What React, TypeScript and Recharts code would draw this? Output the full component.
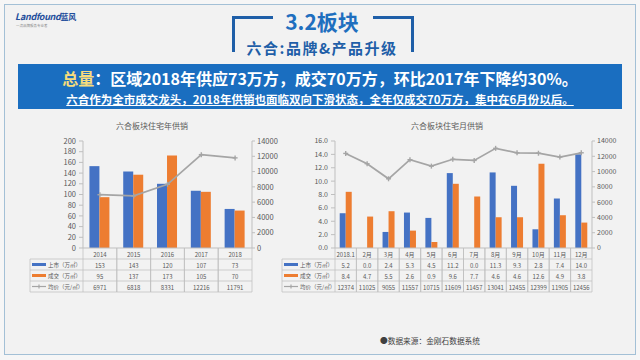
import React from 'react'
import { ComposedChart, Bar, Line, XAxis, YAxis } from 'recharts'

const FONT = '"Noto Sans CJK SC", "Noto Sans", sans-serif'

// 年度
const yearCats = ['2014', '2015', '2016', '2017', '2018']
const yearSupply = [153, 143, 120, 107, 73]
const yearDeal = [95, 137, 173, 105, 70]
const yearPrice = [6971, 6818, 8331, 12216, 11791]

// 月度
const monthCats = ['2018.1', '2月', '3月', '4月', '5月', '6月', '7月', '8月', '9月', '10月', '11月', '12月']
const monthSupply = [5.2, 0.0, 2.4, 5.3, 4.5, 11.2, 0.0, 11.3, 9.3, 2.8, 7.4, 14.0]
const monthDeal = [8.4, 4.7, 5.5, 2.6, 0.9, 9.6, 7.7, 4.6, 4.6, 12.6, 4.9, 3.8]
const monthPrice = [12374, 11025, 9055, 11557, 10715, 11609, 11457, 13041, 12455, 12399, 11905, 12456]

const yearAreaTicks = [0, 20, 40, 60, 80, 100, 120, 140, 160, 180, 200]
const monthAreaTicks = [0, 2, 4, 6, 8, 10, 12, 14, 16]
const priceTicks = [0, 2000, 4000, 6000, 8000, 10000, 12000, 14000]

const seriesNames = ['上市（万㎡）', '成交（万㎡）', '均价（元/㎡）']

const BLUE = '#4472c4'
const ORANGE = '#ed7d31'
const GRAY = '#a5a5a5'
const GRID = '#bfbfbf'
const TXT = '#595959'
const ROW_H = 11
const LEGEND_W = 53

const PlusDot = (p: any) => {
  const { cx, cy, index } = p
  if (cx == null || cy == null) return <g key={`d${index}`} />
  return (
    <g key={`d${index}`}>
      <line x1={cx - 2.5} x2={cx + 2.5} y1={cy} y2={cy} stroke={GRAY} strokeWidth={1.4} />
      <line x1={cx} x2={cx} y1={cy - 2.5} y2={cy + 2.5} stroke={GRAY} strokeWidth={1.4} />
    </g>
  )
}

type Row = { name: string; color: string; kind: 'bar' | 'line'; values: string[] }

function TableTick(props: any) {
  const { x, y, payload, width, visibleTicksCount, rows, index } = props
  const half = payload.offset || width / visibleTicksCount / 2
  const l = x - half
  const r = x + half
  const bottom = y + ROW_H * (rows.length + 1)
  const ts = { fontSize: 6, fill: TXT, fontFamily: FONT }
  return (
    <g>
      <text x={x} y={y + ROW_H / 2 + 0.5} textAnchor="middle" dominantBaseline="central" style={ts}>
        {payload.value}
      </text>
      <line x1={l} x2={l} y1={y} y2={bottom} stroke={GRID} strokeWidth={0.75} />
      <line x1={r} x2={r} y1={y} y2={bottom} stroke={GRID} strokeWidth={0.75} />
      {rows.map((row: Row, k: number) => (
        <g key={k}>
          <line x1={l} x2={r} y1={y + ROW_H * (k + 1)} y2={y + ROW_H * (k + 1)} stroke={GRID} strokeWidth={0.75} />
          <text x={x} y={y + ROW_H * (k + 1.5) + 0.5} textAnchor="middle" dominantBaseline="central" style={ts}>
            {row.values[index]}
          </text>
        </g>
      ))}
      <line x1={l} x2={r} y1={bottom} y2={bottom} stroke={GRID} strokeWidth={0.75} />
      {index === 0 && (
        <g>
          <line x1={l - LEGEND_W} x2={l - LEGEND_W} y1={y + ROW_H} y2={bottom} stroke={GRID} strokeWidth={0.75} />
          {rows.map((row: Row, k: number) => {
            const cy = y + ROW_H * (k + 1.5)
            const sx = l - LEGEND_W + 2
            return (
              <g key={k}>
                <line x1={l - LEGEND_W} x2={l} y1={y + ROW_H * (k + 1)} y2={y + ROW_H * (k + 1)} stroke={GRID} strokeWidth={0.75} />
                {row.kind === 'bar' ? (
                  <rect x={sx} y={cy - 1.5} width={14} height={3} fill={row.color} />
                ) : (
                  <g>
                    <line x1={sx} x2={sx + 14} y1={cy} y2={cy} stroke={row.color} strokeWidth={1.2} />
                    <line x1={sx + 7} x2={sx + 7} y1={cy - 2} y2={cy + 2} stroke={row.color} strokeWidth={1.2} />
                  </g>
                )}
                <text x={sx + 16} y={cy + 0.5} dominantBaseline="central" style={{ ...ts, fontSize: 5.5 }}>
                  {row.name}
                </text>
              </g>
            )
          })}
          <line x1={l - LEGEND_W} x2={l} y1={bottom} y2={bottom} stroke={GRID} strokeWidth={0.75} />
        </g>
      )}
    </g>
  )
}

function SupplyChart(props: {
  title: string
  titleX: number
  left: number
  width: number
  cats: string[]
  supply: number[]
  deal: number[]
  price: number[]
  areaTicks: number[]
  areaFmt: (v: number) => string
  gap: string
  fs: number
}) {
  const { title, titleX, left, width, cats, supply, deal, price, areaTicks, areaFmt, gap, fs } = props
  const data = cats.map((cat, i) => ({ cat, supply: supply[i], deal: deal[i], price: price[i] }))
  const rows: Row[] = [
    { name: seriesNames[0], color: BLUE, kind: 'bar', values: supply.map(areaFmt) },
    { name: seriesNames[1], color: ORANGE, kind: 'bar', values: deal.map(areaFmt) },
    { name: seriesNames[2], color: GRAY, kind: 'line', values: price.map((v) => String(v)) },
  ]
  const tickStyle = { fontSize: fs, fill: TXT, fontFamily: FONT }
  return (
    <>
      <div
        style={{
          position: 'absolute', left: titleX - 80, top: 120, width: 160, textAlign: 'center',
          fontSize: 8, color: TXT, fontFamily: FONT, lineHeight: '12px',
        }}
      >
        {title}
      </div>
      <div style={{ position: 'absolute', left, top: 130 }}>
        <ComposedChart
          width={width}
          height={163}
          data={data}
          margin={{ top: 11, right: 0, bottom: 0, left: 0 }}
          barCategoryGap={gap}
          barGap={0}
        >
          <XAxis
            dataKey="cat"
            height={45}
            interval={0}
            tickSize={0}
            tickMargin={0}
            tickLine={false}
            axisLine={{ stroke: GRID }}
            tick={(p: any) => <TableTick {...p} rows={rows} />}
          />
          <YAxis
            yAxisId="l"
            width={55}
            domain={[0, areaTicks[areaTicks.length - 1]]}
            ticks={areaTicks}
            interval={0}
            tickFormatter={areaFmt}
            tick={tickStyle}
            tickSize={4}
            tickMargin={3}
            axisLine={{ stroke: GRID }}
            tickLine={{ stroke: GRID }}
          />
          <YAxis
            yAxisId="r"
            orientation="right"
            width={30}
            domain={[0, 14000]}
            ticks={priceTicks}
            interval={0}
            tick={tickStyle}
            tickSize={3}
            tickMargin={2}
            axisLine={{ stroke: GRID }}
            tickLine={{ stroke: GRID }}
          />
          <Bar yAxisId="l" dataKey="supply" fill={BLUE} isAnimationActive={false} />
          <Bar yAxisId="l" dataKey="deal" fill={ORANGE} isAnimationActive={false} />
          <Line
            yAxisId="r"
            type="linear"
            dataKey="price"
            stroke={GRAY}
            strokeWidth={1.75}
            dot={PlusDot}
            activeDot={false}
            isAnimationActive={false}
          />
        </ComposedChart>
      </div>
    </>
  )
}

export default function App() {
  const bracket = { position: 'absolute' as const, borderColor: '#1f5fa8', borderStyle: 'solid', width: 38, height: 33 }
  return (
    <div style={{ position: 'absolute', left: 0, top: 0, width: 640, height: 360, background: '#f6f6f6', fontFamily: FONT, overflow: 'hidden' }}>
      {/* 外框 */}
      <div style={{ position: 'absolute', left: 4, top: 4, width: 630, height: 349, background: '#f2f2f2', border: '1.5px solid #a3c0d6' }} />

      {/* logo */}
      <div style={{ position: 'absolute', left: 15, top: 12, fontSize: 9, fontWeight: 700, fontStyle: 'italic', color: '#1f4e9c', letterSpacing: -0.3, lineHeight: '10px' }}>
        Landfound<span style={{ fontStyle: 'normal', fontSize: 8 }}>蓝风</span>
      </div>
      <div style={{ position: 'absolute', left: 16, top: 24, fontSize: 3.5, color: '#8a8a8a', lineHeight: '4px' }}>一流品牌服务专业者</div>

      {/* 标题 */}
      <div style={{ ...bracket, left: 232, top: 16, borderWidth: '3px 0 0 3px' }} />
      <div style={{ ...bracket, left: 373, top: 16, borderWidth: '3px 3px 0 0' }} />
      <div style={{ position: 'absolute', left: 220, top: 7, width: 204, textAlign: 'center', fontSize: 21, fontWeight: 700, color: '#1f6fbf', lineHeight: '28px' }}>
        3.2板块
      </div>
      <div style={{ position: 'absolute', left: 220, top: 37, width: 204, textAlign: 'center', fontSize: 15, fontWeight: 700, color: '#1f5fa8', lineHeight: '22px', letterSpacing: 1.5 }}>
        六合:品牌&amp;产品升级
      </div>

      {/* 蓝色横幅 */}
      <div style={{ position: 'absolute', left: 18, top: 64, width: 604, height: 45, background: '#1a6ec0' }} />
      <div style={{ position: 'absolute', left: 18, top: 66, width: 604, textAlign: 'center', fontSize: 16, fontWeight: 700, color: '#ffffff', lineHeight: '24px' }}>
        <span style={{ color: '#f6dc7c' }}>总量</span>：区域2018年供应73万方，成交70万方，环比2017年下降约30%。
      </div>
      <div style={{ position: 'absolute', left: 18, top: 91, width: 604, textAlign: 'center', fontSize: 11.5, fontWeight: 700, color: '#ffffff', lineHeight: '16px', textDecoration: 'underline' }}>
        六合作为全市成交龙头，2018年供销也面临双向下滑状态，全年仅成交70万方，集中在6月份以后。
      </div>

      <SupplyChart
        title="六合板块住宅年供销"
        titleX={152}
        left={28}
        width={254}
        cats={yearCats}
        supply={yearSupply}
        deal={yearDeal}
        price={yearPrice}
        areaTicks={yearAreaTicks}
        areaFmt={(v) => String(v)}
        gap="19%"
        fs={7.5}
      />
      <SupplyChart
        title="六合板块住宅月供销"
        titleX={447}
        left={280}
        width={342}
        cats={monthCats}
        supply={monthSupply}
        deal={monthDeal}
        price={monthPrice}
        areaTicks={monthAreaTicks}
        areaFmt={(v) => v.toFixed(1)}
        gap="22%"
        fs={7}
      />

      <div style={{ position: 'absolute', left: 380, top: 335, fontSize: 7.7, color: '#404040', lineHeight: '12px' }}>
        ●数据来源：金刚石数据系统
      </div>
    </div>
  )
}
